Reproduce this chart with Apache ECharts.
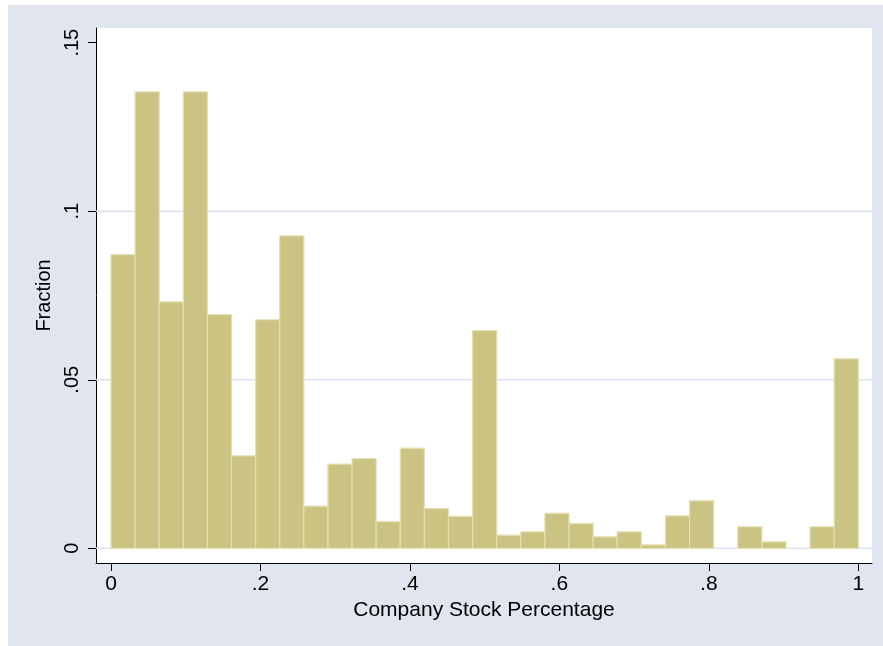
<!DOCTYPE html>
<html>
<head>
<meta charset="utf-8">
<title>Company Stock Percentage histogram</title>
<script src="https://cdn.jsdelivr.net/npm/echarts@6/dist/echarts.min.js"></script>
<style>
  html, body { margin: 0; padding: 0; background: #ffffff; overflow: hidden; }
  #panel { position: absolute; left: 8px; top: 5px; width: 875px; height: 641px; background: #e0e5ef; }
  #chart { position: absolute; left: 0; top: 0; width: 883px; height: 646px; }
</style>
</head>
<body>
<div id="panel"></div>
<div id="chart"></div>
<script>
// Histogram: share of participants by company stock percentage (31 equal bins on [0, 1])
const binLow = 0;
const binHigh = 1;
const binCount = 31;
const fractions = [
  0.0871, 0.1354, 0.0731, 0.1354, 0.0693, 0.0274, 0.0678, 0.0927,
  0.0125, 0.0250, 0.0266, 0.0079, 0.0297, 0.0118, 0.0095, 0.0646,
  0.0039, 0.0049, 0.0104, 0.0073, 0.0034, 0.0049, 0.0010, 0.0096,
  0.0141, 0.0000, 0.0064, 0.0019, 0.0000, 0.0064, 0.0562
];

// Axis ticks and their labels
const xTicks = [0, 0.2, 0.4, 0.6, 0.8, 1];
const xTickLabels = ['0', '.2', '.4', '.6', '.8', '1'];
const yTicks = [0, 0.05, 0.1, 0.15];
const yTickLabels = ['0', '.05', '.1', '.15'];
const yGridValues = [0, 0.05, 0.1];

const xTitle = 'Company Stock Percentage';
const yTitle = 'Fraction';

// Bin rows: [lower edge, upper edge, fraction]
const binWidth = (binHigh - binLow) / binCount;
const bins = fractions.map((f, i) => [binLow + i * binWidth, binLow + (i + 1) * binWidth, f]);

const X_MIN = -0.02007, X_MAX = 1.01833;
const Y_MIN = -0.00436, Y_MAX = 0.15436;

const FONT = '"Liberation Sans", Arial, Helvetica, sans-serif';

function labelFor(ticks, labels) {
  return function (v) {
    for (let i = 0; i < ticks.length; i++) {
      if (Math.abs(ticks[i] - v) < 1e-9) return labels[i];
    }
    return '';
  };
}

const chart = echarts.init(document.getElementById('chart'), null, { renderer: 'canvas' });

chart.setOption({
  animation: false,
  backgroundColor: 'transparent',
  grid: {
    left: 96, top: 28, width: 776, height: 535,
    show: true, backgroundColor: '#ffffff', borderWidth: 0
  },
  xAxis: {
    type: 'value',
    min: X_MIN, max: X_MAX,
    name: xTitle,
    nameLocation: 'middle',
    nameGap: 36,
    nameTextStyle: { color: '#000', fontSize: 21, fontFamily: FONT },
    axisLine: { show: true, onZero: false, lineStyle: { color: '#000', width: 1 } },
    axisTick: { show: true, length: 8, customValues: xTicks, lineStyle: { color: '#000', width: 1 } },
    axisLabel: {
      show: true, customValues: xTicks, margin: 11,
      color: '#000', fontSize: 21, fontFamily: FONT,
      formatter: labelFor(xTicks, xTickLabels)
    },
    splitLine: { show: false }
  },
  yAxis: {
    type: 'value',
    min: Y_MIN, max: Y_MAX,
    name: yTitle,
    nameLocation: 'middle',
    nameGap: 40,
    nameTextStyle: { color: '#000', fontSize: 20, fontFamily: FONT },
    axisLine: { show: true, onZero: false, lineStyle: { color: '#000', width: 1 } },
    axisTick: { show: true, length: 8, customValues: yTicks, lineStyle: { color: '#000', width: 1 } },
    axisLabel: {
      show: true, customValues: yTicks, margin: 14, rotate: 90,
      color: '#000', fontSize: 20, fontFamily: FONT,
      formatter: labelFor(yTicks, yTickLabels)
    },
    splitLine: { show: false }
  },
  series: [
    {
      // horizontal grid lines across the plot region
      type: 'custom',
      silent: true,
      z: 1,
      data: yGridValues.map(v => [v]),
      renderItem: function (params, api) {
        const v = api.value(0);
        const a = api.coord([X_MIN, v]);
        const b = api.coord([X_MAX, v]);
        return {
          type: 'line',
          shape: { x1: a[0], y1: a[1], x2: b[0], y2: b[1] },
          style: { stroke: '#dce2ef', lineWidth: 1.6 }
        };
      }
    },
    {
      // histogram bars
      type: 'custom',
      silent: true,
      z: 2,
      data: bins,
      encode: { x: [0, 1], y: 2 },
      renderItem: function (params, api) {
        const h = api.value(2);
        if (!(h > 0)) return null;
        const topLeft = api.coord([api.value(0), h]);
        const bottomRight = api.coord([api.value(1), 0]);
        return {
          type: 'rect',
          shape: {
            x: topLeft[0], y: topLeft[1],
            width: bottomRight[0] - topLeft[0],
            height: bottomRight[1] - topLeft[1]
          },
          style: { fill: '#cbc381', stroke: '#e4dfb2', lineWidth: 1.2 }
        };
      }
    }
  ]
});
</script>
</body>
</html>
